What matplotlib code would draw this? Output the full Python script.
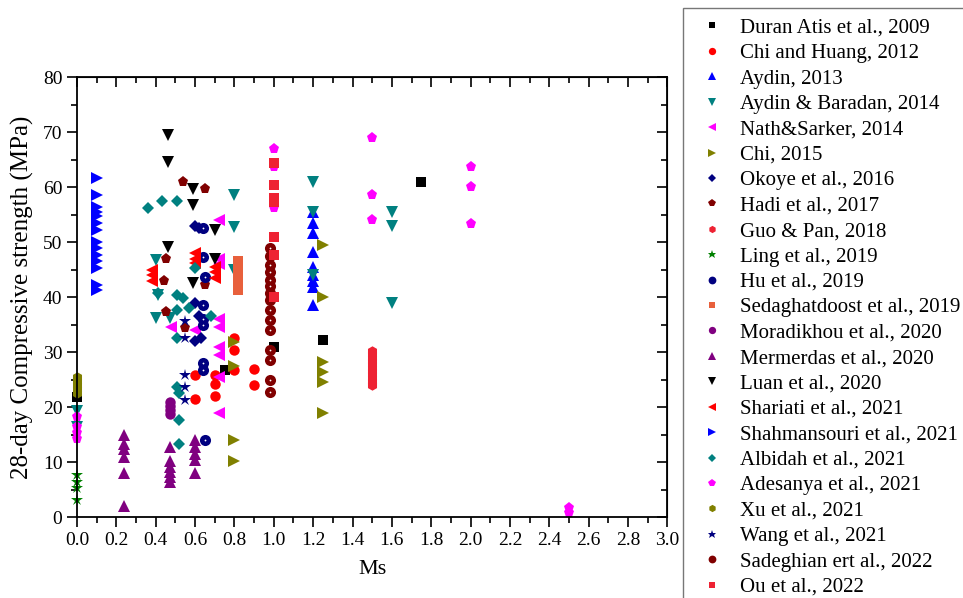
import matplotlib
matplotlib.use("Agg")
import matplotlib.pyplot as plt
from matplotlib.ticker import MultipleLocator

plt.rcParams["font.family"] = ["Liberation Serif", "DejaVu Serif"]

# data (Ms, 28-day strength MPa)
duran_x = [1.75, 1.25, 1.0, 0.75, 0.0]
duran_y = [61.0, 32.2, 31.0, 26.7, 21.8]

chihuang_x = [0.6, 0.6, 0.7, 0.7, 0.7, 0.8, 0.8, 0.8, 0.9, 0.9]
chihuang_y = [25.8, 21.5, 25.8, 24.3, 22.0, 32.5, 30.4, 26.7, 26.9, 24.0]

aydin13_x = [1.2, 1.2, 1.2, 1.2, 1.2, 1.2, 1.2, 1.2, 1.2]
aydin13_y = [55.5, 53.4, 51.6, 48.2, 45.5, 44.0, 43.0, 41.8, 38.5]

aydinb_x = [1.2, 1.2, 1.2, 1.6, 1.6, 1.6, 0.8, 0.8, 0.8, 0.4, 0.41, 0.4, 0.47, 0.0, 0.0]
aydinb_y = [61.0, 55.5, 44.0, 55.5, 53.0, 39.0, 58.5, 52.7, 44.9, 46.7, 40.4, 36.2, 36.3, 19.4, 16.4]

nath_x = [0.72, 0.72, 0.72, 0.72, 0.72, 0.72, 0.72, 0.72, 0.72, 0.48, 0.6]
nath_y = [54.0, 47.0, 46.0, 36.0, 34.5, 31.0, 29.5, 25.5, 18.9, 34.5, 34.0]

chi15_x = [0.8, 0.8, 0.8, 0.8, 1.25, 1.25, 1.25, 1.25, 1.25, 1.25]
chi15_y = [31.8, 27.5, 14.0, 10.2, 49.5, 40.0, 28.2, 26.4, 24.5, 18.9]

okoye_x = [0.6, 0.62, 0.6, 0.62, 0.6, 0.63]
okoye_y = [53.0, 52.5, 39.0, 36.5, 32.0, 32.5]

hadi_x = [0.54, 0.65, 0.44, 0.45, 0.55, 0.45, 0.65]
hadi_y = [61.0, 59.6, 43.0, 37.3, 34.4, 46.9, 42.2]

guo_x = [1.5] * 12
guo_y = [30.2, 29.6, 29.0, 28.4, 27.8, 27.2, 26.6, 26.0, 25.4, 24.8, 24.3, 24.0]

ling_x = [0.0, 0.0, 0.0, 0.0]
ling_y = [7.6, 6.4, 5.3, 3.2]

hu_x = [0.64, 0.64, 0.65, 0.64, 0.64, 0.64, 0.64, 0.64, 0.65]
hu_y = [52.5, 47.3, 43.6, 38.6, 36.0, 35.0, 28.0, 26.8, 14.0]

sedag_x = [0.82, 0.82, 0.82, 0.82, 0.82, 0.82]
sedag_y = [46.6, 45.6, 44.0, 43.0, 42.0, 41.3]

morad_x = [0.47, 0.47, 0.47, 0.47]
morad_y = [21.0, 20.3, 19.5, 18.8]

merm_x = [0.24, 0.24, 0.24, 0.24, 0.24, 0.24,
          0.47, 0.47, 0.47, 0.47, 0.47, 0.47,
          0.6, 0.6, 0.6, 0.6, 0.6]
merm_y = [14.9, 13.4, 12.4, 10.9, 8.0, 2.0,
          12.7, 10.2, 9.2, 8.2, 7.3, 6.4,
          14.0, 12.7, 11.5, 10.4, 8.0]

luan_x = [0.46, 0.46, 0.59, 0.59, 0.70, 0.46, 0.59, 0.70]
luan_y = [69.5, 64.6, 59.6, 56.7, 52.2, 49.1, 42.5, 47.0]

shariati_x = [0.38, 0.38, 0.38, 0.6, 0.6, 0.6, 0.7, 0.7, 0.7]
shariati_y = [45.0, 44.0, 43.0, 48.0, 47.0, 46.3, 45.5, 44.5, 43.5]

shahm_x = [0.1] * 14
shahm_y = [61.6, 58.5, 56.4, 55.5, 54.8, 53.4, 52.2, 50.0, 48.9, 47.7, 46.5, 45.3, 42.2, 41.3]

albidah_x = [0.36, 0.43, 0.51, 0.6, 0.41, 0.51, 0.54, 0.51, 0.57, 0.68, 0.51, 0.51, 0.52, 0.52, 0.52]
albidah_y = [56.2, 57.5, 57.5, 45.3, 40.7, 40.4, 39.8, 37.6, 38.0, 36.5, 32.5, 23.6, 22.5, 17.6, 13.3]

ades_x = [1.0, 1.0, 1.0, 1.5, 1.5, 1.5, 2.0, 2.0, 2.0, 2.5, 2.5, 0.0, 0.0, 0.0, 0.0]
ades_y = [66.9, 63.7, 56.2, 69.0, 58.5, 54.0, 63.7, 60.0, 53.3, 1.6, 0.8, 18.2, 16.4, 15.3, 14.3]

xu_x = [0.0] * 5
xu_y = [25.5, 24.8, 24.0, 23.3, 22.6]

wang_x = [0.55, 0.55, 0.55, 0.55, 0.55]
wang_y = [35.7, 32.5, 25.8, 23.6, 21.3]

sadeg_x = [0.98] * 15
sadeg_y = [48.9, 47.4, 45.8, 44.5, 43.2, 42.0, 40.8, 39.5, 37.6, 35.8, 34.0, 30.4, 28.5, 24.9, 22.7]

ou_x = [1.0] * 7
ou_y = [64.4, 60.4, 58.0, 57.3, 51.0, 47.6, 40.0]

series = [
    ("Duran Atis et al., 2009", duran_x, duran_y, "s", "#000000", 6.5),
    ("Chi and Huang, 2012", chihuang_x, chihuang_y, "o", "#ff0000", 7.5),
    ("Aydin, 2013", aydin13_x, aydin13_y, "^", "#0000ff", 8),
    ("Aydin & Baradan, 2014", aydinb_x, aydinb_y, "v", "#008080", 8),
    ("Nath&Sarker, 2014", nath_x, nath_y, "<", "#ff00ff", 8),
    ("Chi, 2015", chi15_x, chi15_y, ">", "#808000", 8),
    ("Okoye et al., 2016", okoye_x, okoye_y, "D", "#000080", 6.5),
    ("Hadi et al., 2017", hadi_x, hadi_y, "p", "#800000", 8),
    ("Guo & Pan, 2018", guo_x, guo_y, "h", "#ee2233", 7.5),
    ("Ling et al., 2019", ling_x, ling_y, "*", "#008000", 9),
    ("Hu et al., 2019", hu_x, hu_y, "o", "#000080", 8),
    ("Sedaghatdoost et al., 2019", sedag_x, sedag_y, "s", "#e8603c", 7),
    ("Moradikhou et al., 2020", morad_x, morad_y, "o", "#800080", 7.5),
    ("Mermerdas et al., 2020", merm_x, merm_y, "^", "#800080", 8),
    ("Luan et al., 2020", luan_x, luan_y, "v", "#000000", 8),
    ("Shariati et al., 2021", shariati_x, shariati_y, "<", "#ff0000", 8),
    ("Shahmansouri et al., 2021", shahm_x, shahm_y, ">", "#0000ff", 8),
    ("Albidah et al., 2021", albidah_x, albidah_y, "D", "#008080", 6.5),
    ("Adesanya et al., 2021", ades_x, ades_y, "p", "#ff00ff", 8),
    ("Xu et al., 2021", xu_x, xu_y, "h", "#808000", 7.5),
    ("Wang et al., 2021", wang_x, wang_y, "*", "#000080", 9),
    ("Sadeghian ert al., 2022", sadeg_x, sadeg_y, "o", "#800000", 8),
    ("Ou et al., 2022", ou_x, ou_y, "s", "#ee2233", 7),
]
dotted = ["Hu et al., 2019", "Sadeghian ert al., 2022"]

fig = plt.figure(figsize=(9.63, 5.98), dpi=100)
ax = fig.add_axes([0.080, 0.135, 0.613, 0.736])

handles = []
for name, xs, ys, m, c, ms in series:
    h, = ax.plot(xs, ys, linestyle="none", marker=m, color=c, markersize=ms,
                 markeredgewidth=0, label=name, clip_on=False)
    if name in dotted:
        # small white highlight inside the circle
        ax.plot(xs, ys, linestyle="none", marker="o", color="white", markersize=1.3,
                markeredgewidth=0, clip_on=False)
    handles.append(h)

ax.set_xlim(0, 3.0)
ax.set_ylim(0, 80)
ax.xaxis.set_major_locator(MultipleLocator(0.2))
ax.xaxis.set_minor_locator(MultipleLocator(0.1))
ax.yaxis.set_major_locator(MultipleLocator(10))
ax.yaxis.set_minor_locator(MultipleLocator(5))
ax.xaxis.set_major_formatter(plt.FuncFormatter(lambda v, p: f"{v:.1f}"))
ax.tick_params(which="major", direction="out", length=7, width=1.2, labelsize=14)
ax.tick_params(which="minor", direction="out", length=4, width=1.2)
for s in ax.spines.values():
    s.set_linewidth(1.3)

# mirrored inward ticks on top and right
top = ax.secondary_xaxis("top")
top.xaxis.set_major_locator(MultipleLocator(0.2))
top.xaxis.set_minor_locator(MultipleLocator(0.1))
top.tick_params(which="major", direction="in", length=7, width=1.2, labeltop=False)
top.tick_params(which="minor", direction="in", length=4, width=1.2)
right = ax.secondary_yaxis("right")
right.yaxis.set_major_locator(MultipleLocator(10))
right.yaxis.set_minor_locator(MultipleLocator(5))
right.tick_params(which="major", direction="in", length=7, width=1.2, labelright=False)
right.tick_params(which="minor", direction="in", length=4, width=1.2)

ax.set_xlabel("Ms", fontsize=16, labelpad=8)
ax.set_ylabel("28-day Compressive strength (MPa)", fontsize=18, labelpad=6)

leg = fig.legend(handles=handles, loc="upper left", bbox_to_anchor=(0.709, 0.987),
                 borderaxespad=0, fontsize=15, frameon=True, fancybox=False,
                 edgecolor="#555555", labelspacing=0.28, handletextpad=0.44,
                 borderpad=0.5, markerscale=0.7, handlelength=1.8)
leg.get_frame().set_linewidth(1.0)

fig.savefig("out.png", dpi=100)
